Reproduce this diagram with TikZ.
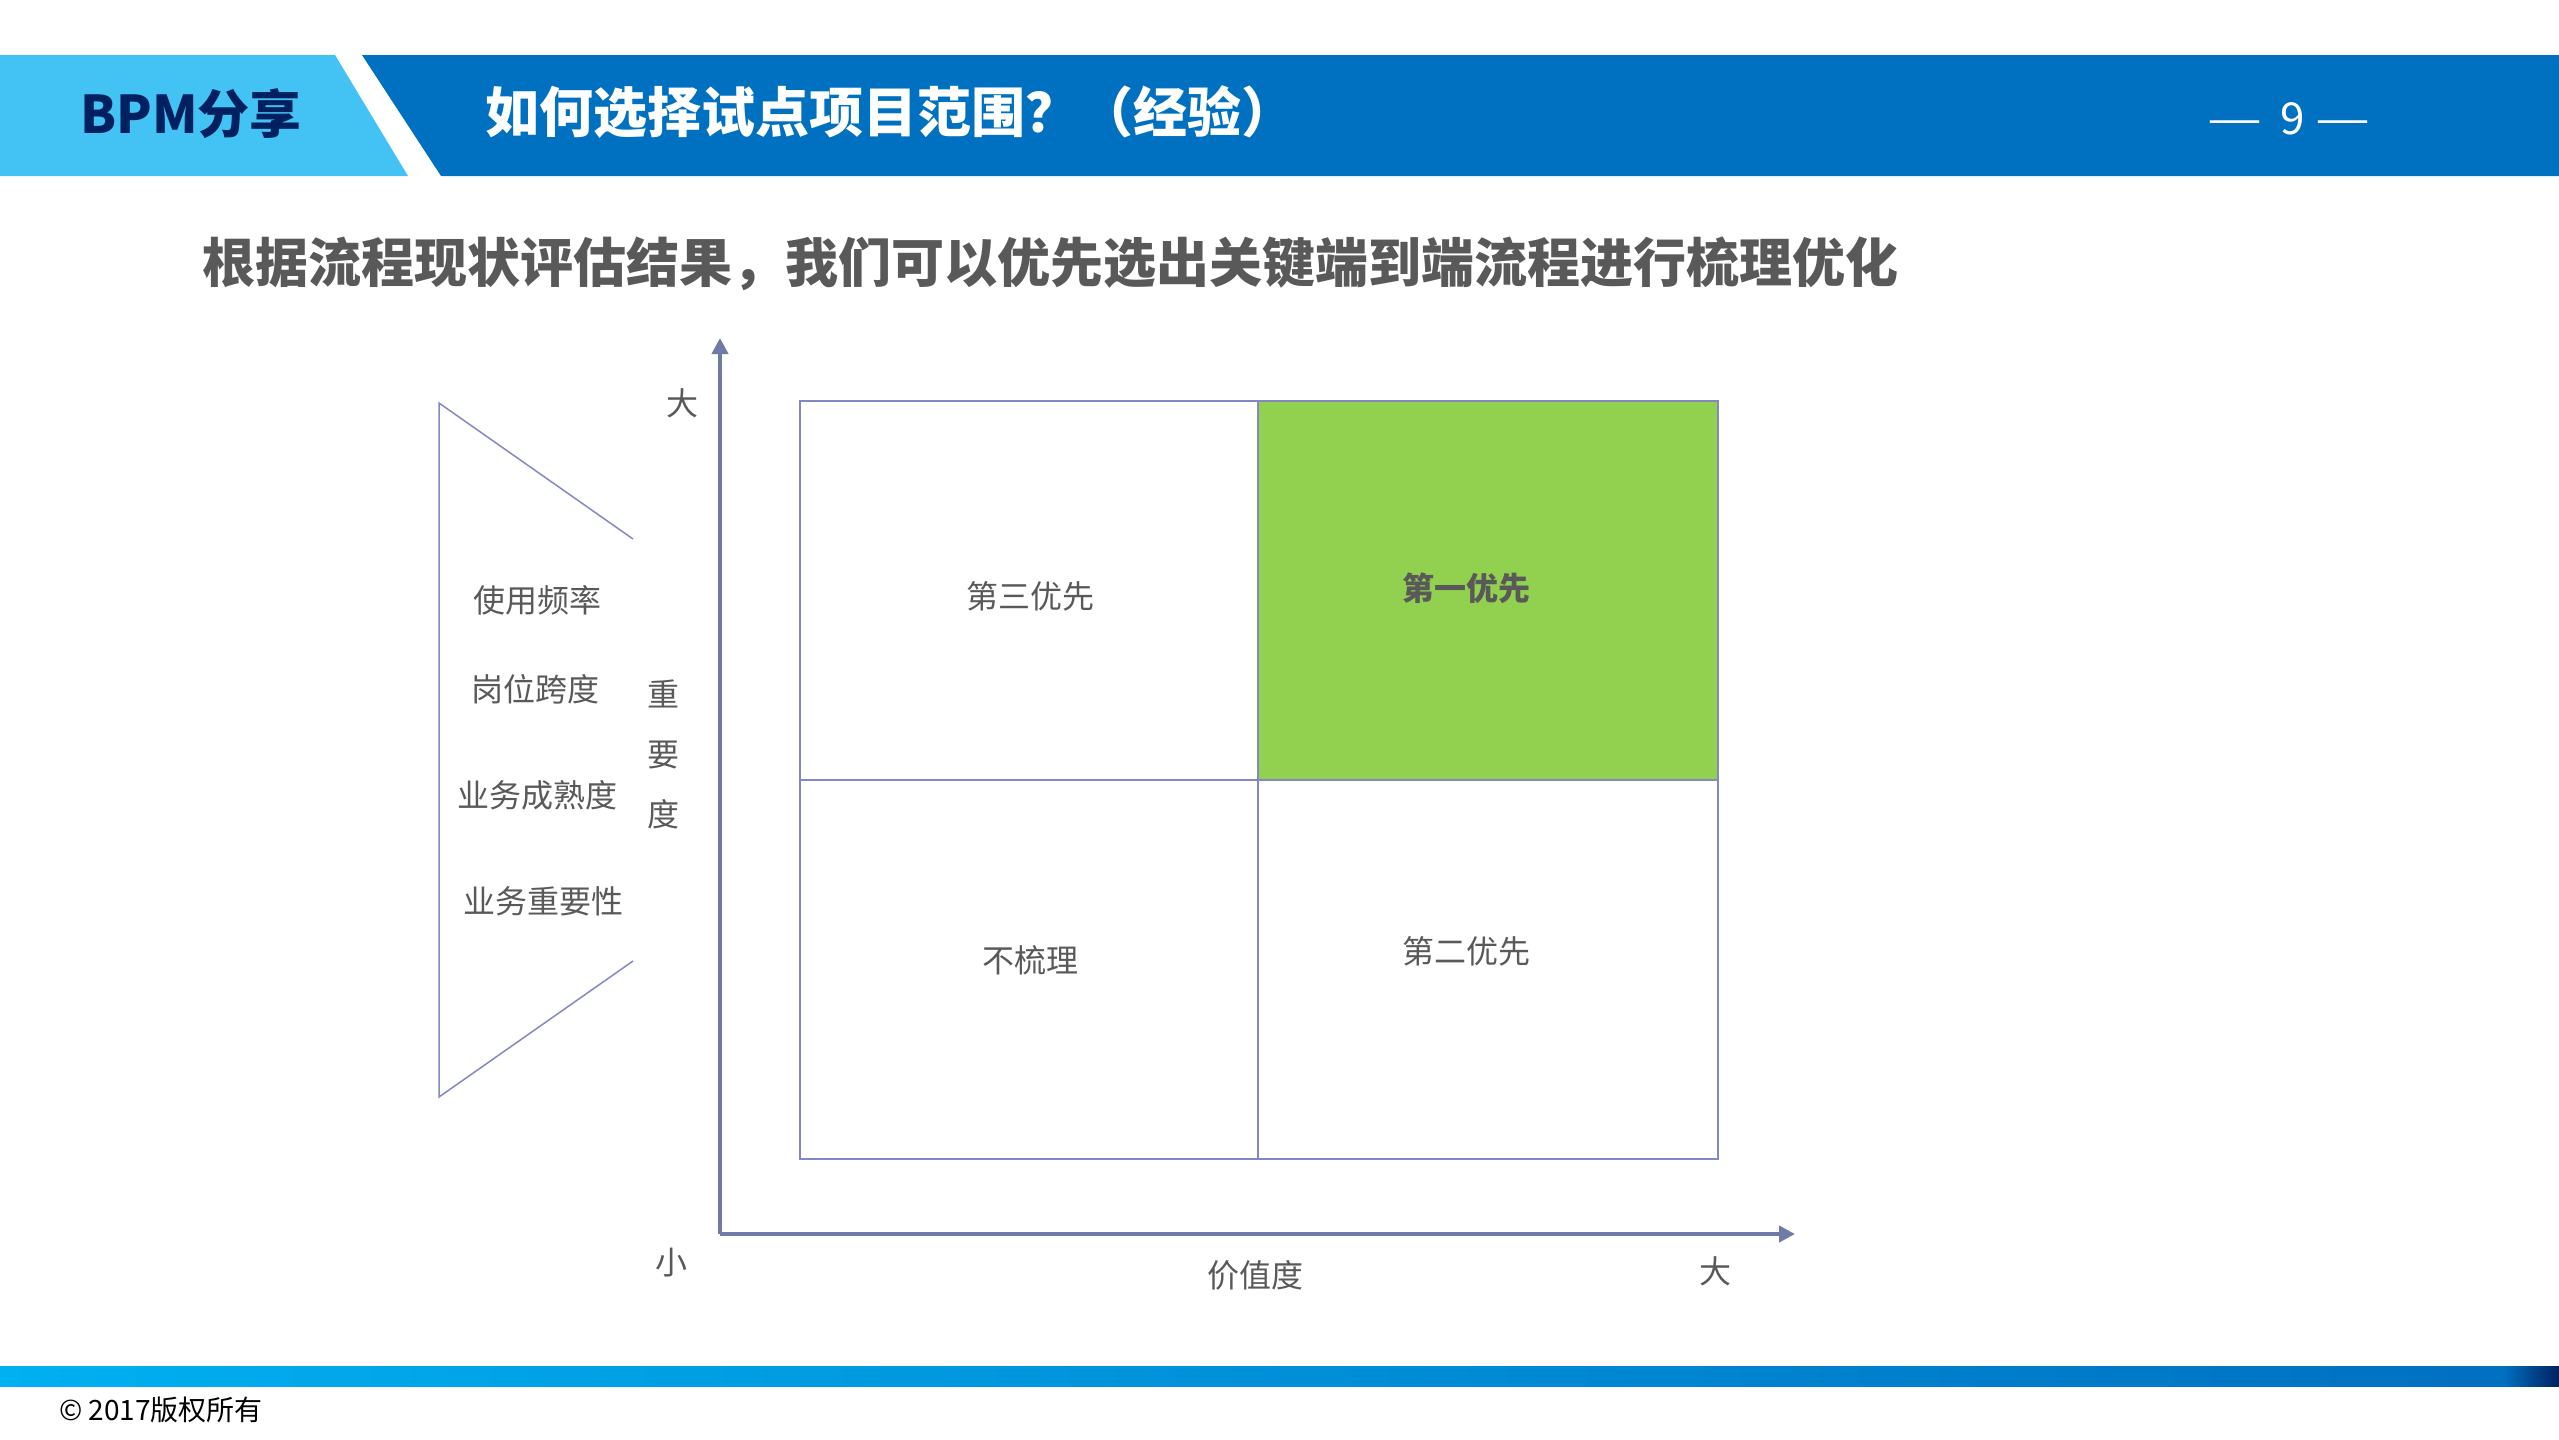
\documentclass[tikz,border=0pt]{standalone}
\usepackage{fontspec}
\usepackage{graphicx}
\setmainfont{Noto Sans CJK SC}
\usetikzlibrary{arrows.meta,positioning}

\definecolor{hdrlight}{HTML}{43C3F4}
\definecolor{hdrdark}{HTML}{0070C0}
\definecolor{navy}{HTML}{002060}
\definecolor{txtgray}{HTML}{595959}
\definecolor{axisblue}{HTML}{6F7BA6}
\definecolor{gridline}{HTML}{8488C2}
\definecolor{firstgreen}{HTML}{92D050}
\definecolor{barcyan}{HTML}{00B0F0}

\newcommand{\longdash}{\scalebox{1.4}[1]{—}}

\begin{document}
\begin{tikzpicture}[x=1pt, y=-1pt, > = {Triangle[length=16pt, width=16pt]},
	lbl/.style = {text=txtgray, inner sep=0pt, font=\fontsize{32}{36}\selectfont},
	axisline/.style = {draw=axisblue, line width=4.5pt},
	cellline/.style = {draw=gridline, line width=1.5pt},
	]

	\useasboundingbox (0,0) rectangle (2559,1440);

	% header band
	\fill[hdrlight] (0,55) -- (335,55) -- (408,176) -- (0,176) -- cycle;
	\fill[hdrdark] (362,55) -- (2559,55) -- (2559,176) -- (441,176) -- cycle;
	\node[text=navy, font=\fontsize{52}{56}\selectfont\bfseries] (brand) at (191,114) {BPM分享};
	\node[anchor=west, text=white, font=\fontsize{54}{58}\selectfont\bfseries, inner sep=0pt] (title) at (485,112) {如何选择试点项目范围？（经验）};
	\node[text=white, font=\fontsize{44}{48}\selectfont] (pageno) at (2289,119) {\longdash\hspace{18pt}9\hspace{10pt}\longdash};

	% subtitle
	\node[anchor=west, text=txtgray, font=\fontsize{53}{58}\selectfont\bfseries, inner sep=0pt] (subtitle) at (202,264) {根据流程现状评估结果，我们可以优先选出关键端到端流程进行梳理优化};

	% left trapezoid
	\draw[draw=gridline, line width=1.5pt] (633,539) -- (439,403) -- (439,1097) -- (633,961);
	\node[lbl] (freq) at (537,600) {使用频率};
	\node[lbl] (span) at (535,689) {岗位跨度};
	\node[lbl] (mature) at (537,795) {业务成熟度};
	\node[lbl] (weight) at (543,901) {业务重要性};
	\node[lbl, align=center, font=\fontsize{32}{60}\selectfont] (importance) at (663,754) {重\\要\\度};

	% axes
	\coordinate (origin) at (720,1234);
	\coordinate (ytop) at (720,338);
	\coordinate (xend) at (1795,1234);
	\draw[axisline, ->] (origin) -- (ytop);
	\draw[axisline, ->] (origin) -- (xend);
	\node[lbl] (ybig) at (682,403) {大};
	\node[lbl] (small) at (671,1263) {小};
	\node[lbl] (value) at (1255,1275) {价值度};
	\node[lbl] (xbig) at (1715,1271) {大};

	% quadrants
	\fill[firstgreen] (1258,401) rectangle (1718,780);
	\draw[cellline] (800,401) rectangle (1718,1159);
	\draw[cellline] (1258,401) -- (1258,1159);
	\draw[cellline] (800,780) -- (1718,780);
	\node[lbl] (third) at (1030,596) {第三优先};
	\node[lbl, font=\fontsize{32}{36}\selectfont\bfseries] (first) at (1466,588) {第一优先};
	\node[lbl] (skip) at (1030,960) {不梳理};
	\node[lbl] (second) at (1466,951) {第二优先};

	% footer
	\shade[left color=barcyan, right color=hdrdark] (0,1366) rectangle (2505,1386);
	\shade[left color=hdrdark, right color=navy] (2504,1366) rectangle (2559,1386);
	\node[anchor=west, inner sep=0pt, font=\fontsize{28}{32}\selectfont] (copyright) at (59,1410) {© 2017版权所有};

\end{tikzpicture}
\end{document}
